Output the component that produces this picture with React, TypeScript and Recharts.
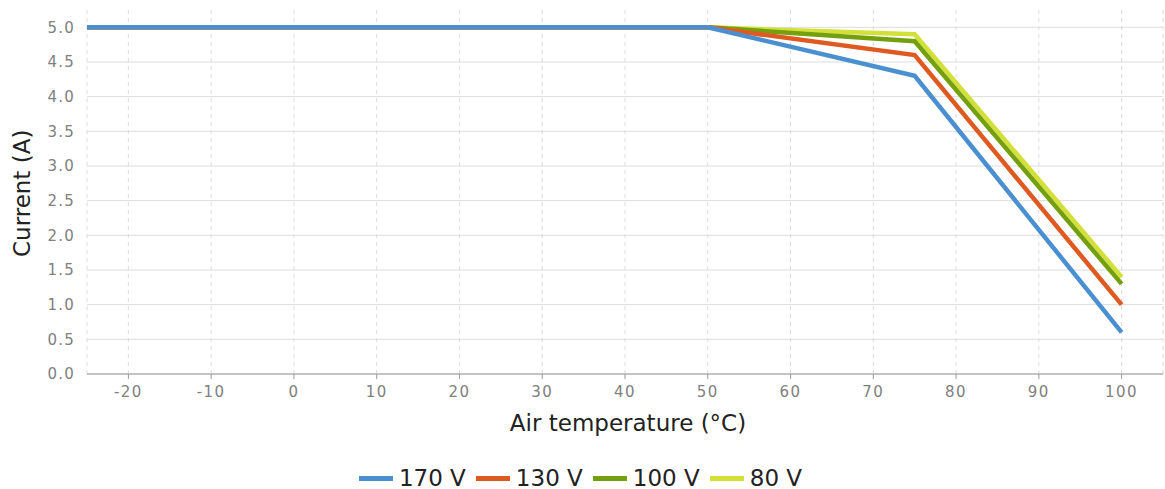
import React from 'react';
import { LineChart, Line, XAxis, YAxis, CartesianGrid, Legend } from 'recharts';

const temperatures = [-25, 50, 75, 100];
const current170 = [5.0, 5.0, 4.3, 0.6];
const current130 = [5.0, 5.0, 4.6, 1.0];
const current100 = [5.0, 5.0, 4.8, 1.3];
const current80 = [5.0, 5.0, 4.9, 1.4];

const seriesNames = ['170 V', '130 V', '100 V', '80 V'];
const seriesColors = ['#4a90d0', '#df5a20', '#74a00f', '#d4e03a'];

const xTicks = [-20, -10, 0, 10, 20, 30, 40, 50, 60, 70, 80, 90, 100];
const yTicks = [0, 0.5, 1, 1.5, 2, 2.5, 3, 3.5, 4, 4.5, 5];
const yMax = 5.25;

const data = temperatures.map((t, i) => ({
  t,
  v170: current170[i],
  v130: current130[i],
  v100: current100[i],
  v80: current80[i],
}));

const font = 'DejaVu Sans, sans-serif';

const renderLegend = () => (
  <div style={{ display: 'flex', justifyContent: 'center', alignItems: 'center', fontSize: 23, color: '#222', fontFamily: font, paddingLeft: 8, paddingTop: 6 }}>
    {seriesNames.map((name, i) => (
      <div key={name} style={{ display: 'flex', alignItems: 'center', marginRight: 10 }}>
        <span style={{ display: 'inline-block', width: 34, height: 5, background: seriesColors[i], marginRight: 6 }} />
        <span>{name}</span>
      </div>
    ))}
  </div>
);

// grid rows only at the labelled ticks, not at the top edge
const gridRows = ({ offset }: any) =>
  yTicks.map((v) => offset.top + offset.height * (1 - v / yMax));

export default function App() {
  return (
    <div style={{ position: 'absolute', left: 0, top: 0, fontFamily: font }}>
      <LineChart width={1165} height={489} data={data} margin={{ top: 10, right: 2, left: 0, bottom: 0 }}>
        <CartesianGrid vertical={false} stroke="#dcdcdc" horizontalCoordinatesGenerator={gridRows} />
        <CartesianGrid horizontal={false} stroke="#dcdcdc" strokeDasharray="4 4" />
        <XAxis
          dataKey="t"
          type="number"
          domain={[-25, 105]}
          ticks={xTicks}
          height={85}
          stroke="#999"
          tickSize={5}
          tick={{ fill: '#808080', fontSize: 15, fontFamily: font, letterSpacing: 1.5, dy: 5 }}
          label={{ value: 'Air temperature (°C)', position: 'insideTop', offset: 41, fill: '#222', fontSize: 23, fontFamily: font, dx: 3 }}
        />
        <YAxis
          type="number"
          domain={[0, yMax]}
          ticks={yTicks}
          width={87}
          axisLine={false}
          tickLine={false}
          tickFormatter={(v: number) => v.toFixed(1)}
          tick={{ fill: '#808080', fontSize: 15, fontFamily: font, letterSpacing: 1.2, dx: -4 }}
          label={{ value: 'Current (A)', angle: -90, position: 'insideLeft', offset: 22, fill: '#222', fontSize: 23, fontFamily: font, dy: 65 }}
        />
        <Legend verticalAlign="bottom" align="center" height={30} content={renderLegend} />
        <Line dataKey="v80" name="80 V" stroke={seriesColors[3]} strokeWidth={4.5} dot={false} isAnimationActive={false} />
        <Line dataKey="v100" name="100 V" stroke={seriesColors[2]} strokeWidth={4.5} dot={false} isAnimationActive={false} />
        <Line dataKey="v130" name="130 V" stroke={seriesColors[1]} strokeWidth={4.5} dot={false} isAnimationActive={false} />
        <Line dataKey="v170" name="170 V" stroke={seriesColors[0]} strokeWidth={4.5} dot={false} isAnimationActive={false} />
      </LineChart>
    </div>
  );
}
